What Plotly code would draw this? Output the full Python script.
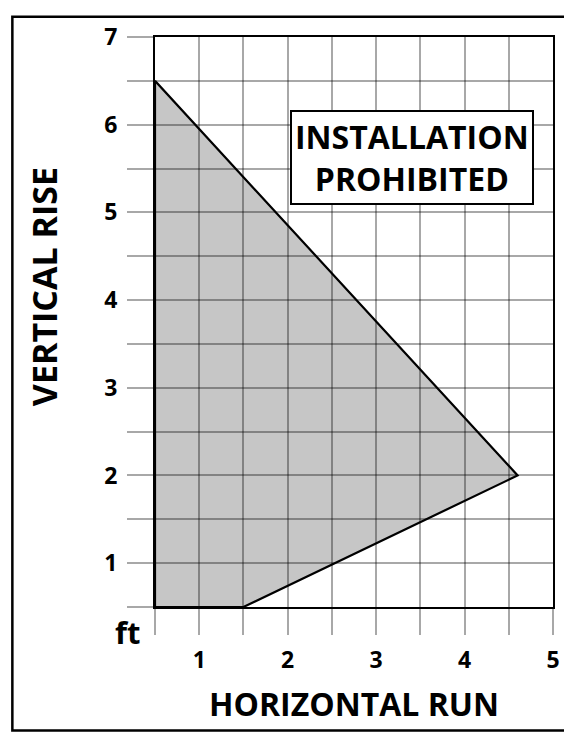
import plotly.graph_objects as go

# ---- data ----
region_x = [0.5, 0.5, 4.6, 1.5, 0.5]
region_y = [0.5, 6.5, 2.0, 0.5, 0.5]
x_tickvals = [0.5, 1, 1.5, 2, 2.5, 3, 3.5, 4, 4.5, 5]
x_ticktext = ["", "1", "", "2", "", "3", "", "4", "", "5"]
y_tickvals = [0.5, 1, 1.5, 2, 2.5, 3, 3.5, 4, 4.5, 5, 5.5, 6, 6.5, 7]
y_ticktext = ["", "1", "", "2", "", "3", "", "4", "", "5", "", "6", "", "7"]
x_title = "HORIZONTAL RUN"
y_title = "VERTICAL RISE"
unit_label = "ft"
zone_label = "INSTALLATION<br>PROHIBITED"

# ---- layout geometry (pixels, in page coordinates) ----
OFF = 8  # default page body margin
W, H = 572 - OFF, 739 - OFF
L, T = 155 - OFF, 30 - OFF
R = W - (554 - OFF)
B = H - (607 - OFF)
pw, ph = W - L - R, H - T - B


def px(x):
    return (x - OFF - L) / pw


def py(y):
    return (T + ph - (y - OFF)) / ph


def bold(labels):
    return [f"<b>{s}</b>" if s else "" for s in labels]


FONT = "Open Sans"
GRID = "rgba(0,0,0,0.34)"

fig = go.Figure()

# shaded region (below grid)
path = "M " + " L ".join(f"{a},{b}" for a, b in zip(region_x, region_y)) + " Z"
fig.add_shape(type="path", path=path, xref="x", yref="y",
              fillcolor="#c6c6c6", line=dict(width=0), layer="below")

# outline on top
fig.add_trace(go.Scatter(x=region_x, y=region_y, mode="lines",
                         line=dict(color="black", width=2.2),
                         hoverinfo="skip", showlegend=False, cliponaxis=False))

tick_font = dict(family=FONT, size=23, color="black")
fig.update_xaxes(range=[0.5, 5], tickvals=x_tickvals, ticktext=bold(x_ticktext),
                 showgrid=True, gridcolor=GRID, gridwidth=2,
                 ticks="outside", ticklen=26, tickwidth=2, tickcolor=GRID,
                 showline=True, linecolor="black", linewidth=2, mirror=True,
                 zeroline=False, ticklabelstandoff=5, tickfont=tick_font)
fig.update_yaxes(range=[0.5, 7], tickvals=y_tickvals, ticktext=bold(y_ticktext),
                 showgrid=True, gridcolor=GRID, gridwidth=2,
                 ticks="outside", ticklen=26, tickwidth=2, tickcolor=GRID,
                 showline=True, linecolor="black", linewidth=2, mirror=True,
                 zeroline=False, ticklabelstandoff=5, tickfont=tick_font)

annotations = [
    dict(text=zone_label, x=px(412.5), y=py(151.5), xref="paper", yref="paper",
         xanchor="center", yanchor="middle", showarrow=False,
         font=dict(family=FONT, size=32, color="black", weight="bold"),
         bgcolor="white", bordercolor="black", borderwidth=2, borderpad=3),
    dict(text=x_title, x=px(355), y=py(705), xref="paper", yref="paper",
         xanchor="center", yanchor="middle", showarrow=False,
         font=dict(family=FONT, size=32, color="black", weight="bold")),
    dict(text=y_title, x=px(44), y=py(283), xref="paper", yref="paper",
         xanchor="center", yanchor="middle", showarrow=False, textangle=-90,
         font=dict(family=FONT, size=34, color="black", weight="bold")),
    dict(text=unit_label, x=px(127), y=py(632), xref="paper", yref="paper",
         xanchor="center", yanchor="middle", showarrow=False,
         font=dict(family=FONT, size=31, color="black", weight="bold")),
]

# outer frame
fig.add_shape(type="rect", xref="paper", yref="paper",
              x0=px(12), x1=px(567), y0=py(9.5), y1=py(732),
              line=dict(color="black", width=2.5), fillcolor="rgba(0,0,0,0)")

fig.update_layout(width=W, height=H, margin=dict(l=L, r=R, t=T, b=B),
                  plot_bgcolor="white", paper_bgcolor="white",
                  annotations=annotations, showlegend=False)

fig.write_html("out.html")
